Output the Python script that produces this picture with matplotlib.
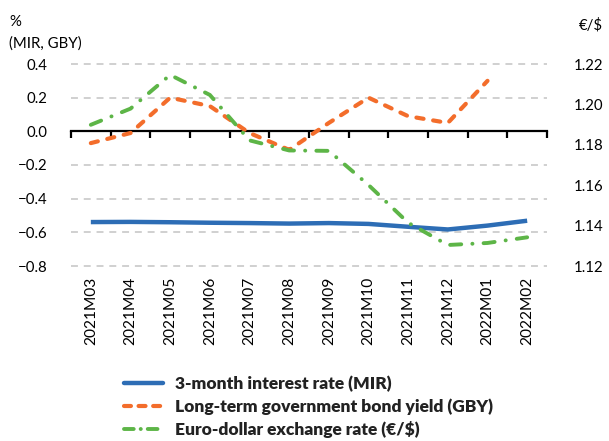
import matplotlib
matplotlib.use("Agg")
import matplotlib.pyplot as plt
import numpy as np
from matplotlib.lines import Line2D

plt.rcParams['font.family'] = ['Lato', 'DejaVu Sans']
plt.rcParams['lines.scale_dashes'] = False

months = ["2021M03", "2021M04", "2021M05", "2021M06", "2021M07", "2021M08",
          "2021M09", "2021M10", "2021M11", "2021M12", "2022M01", "2022M02"]
mir = [-0.539, -0.538, -0.540, -0.543, -0.545, -0.548,
       -0.545, -0.550, -0.567, -0.583, -0.560, -0.531]
gby = [-0.07, -0.01, 0.20, 0.15, -0.01, -0.11,
       0.05, 0.20, 0.09, 0.05, 0.30, np.nan]
eurusd = [1.1899, 1.1979, 1.2146, 1.2047, 1.1822, 1.1772,
          1.1770, 1.1601, 1.1414, 1.1304, 1.1314, 1.1342]

left_ticks = [-0.8, -0.6, -0.4, -0.2, 0.0, 0.2, 0.4]
right_ticks = [1.12, 1.14, 1.16, 1.18, 1.20, 1.22]

BLUE = "#2d6db5"
ORANGE = "#f36d2b"
GREEN = "#5db547"
GRID = "#c4c4c4"

W, H = 609, 441
fig = plt.figure(figsize=(W / 100, H / 100), dpi=100)
ax = fig.add_axes([71 / W, 1 - 266 / H, (547 - 71) / W, (266 - 64) / H])
ax2 = ax.twinx()

x = np.arange(len(months))

ax.set_xlim(-0.5, len(months) - 0.5)
ax.set_ylim(-0.8, 0.4)
ax2.set_ylim(1.12, 1.22)

for a in (ax, ax2):
    for s in a.spines.values():
        s.set_visible(False)

# horizontal dashed grid
for v in left_ticks:
    if v != 0.0:
        ax.axhline(v, color=GRID, lw=1.1, dashes=(5.0, 4.2), zorder=0, clip_on=False)

# zero axis line with boundary ticks
ax.axhline(0, color="black", lw=1.6, zorder=2, clip_on=False)
tick_len = 0.038
ax.vlines(np.arange(len(months) + 1) - 0.5, -tick_len, 0, color="black", lw=1.6,
          zorder=2, clip_on=False)

# series
l1, = ax.plot(x, mir, color=BLUE, lw=3.2, solid_capstyle="butt", zorder=3)
l2, = ax.plot(x, gby, color=ORANGE, lw=3.0, zorder=4,
              dash_capstyle="round", dashes=(5.2, 7.0))
l3, = ax2.plot(x, eurusd, color=GREEN, lw=2.8, zorder=5,
               dash_capstyle="round", dashes=(8.0, 8.0, 0.1, 8.0))

fs = 10.8
ax.set_xticks(x)
ax.set_xticklabels(months, rotation=90, fontsize=11.2)
ax.tick_params(axis="x", length=0, pad=8)
ax.set_yticks(left_ticks)
ax.set_yticklabels([f"{v:.1f}".replace("-", "\u2212") for v in left_ticks], fontsize=fs)
ax.tick_params(axis="y", length=0, pad=17)
ax2.set_yticks(right_ticks)
ax2.set_yticklabels([f"{v:.2f}" for v in right_ticks], fontsize=fs)
ax2.tick_params(axis="y", length=0, pad=19)

fig.text(9 / W, 1 - 22 / H, "%", fontsize=fs, va="center", ha="left")
fig.text(9 / W, 1 - 44 / H, "(MIR, GBY)", fontsize=fs, va="center", ha="left")
fig.text(603 / W, 1 - 25 / H, "\u20ac/$", fontsize=fs, va="center", ha="right")

# legend
h1 = Line2D([], [], color=BLUE, lw=3.2, solid_capstyle="round")
h2 = Line2D([], [], color=ORANGE, lw=3.0, dash_capstyle="round", dashes=(5.0, 5.5))
h3 = Line2D([], [], color=GREEN, lw=2.8, dash_capstyle="round", dashes=(7.0, 5.0, 0.1, 5.0))
lfs = 12.5
leg = fig.legend([h1, h2, h3],
                 ["3-month interest rate (MIR)",
                  "Long-term government bond yield (GBY)",
                  "Euro-dollar exchange rate (\u20ac/$)"],
                 loc="upper left", bbox_to_anchor=(124 / W, 1 - 376 / H),
                 frameon=False, handlelength=2.25, handletextpad=0.7,
                 labelspacing=0.36, borderaxespad=0, borderpad=0,
                 prop={"weight": "heavy", "size": lfs})
for t in leg.get_texts():
    t.set_color("#222222")

fig.savefig("out.png", dpi=100)
